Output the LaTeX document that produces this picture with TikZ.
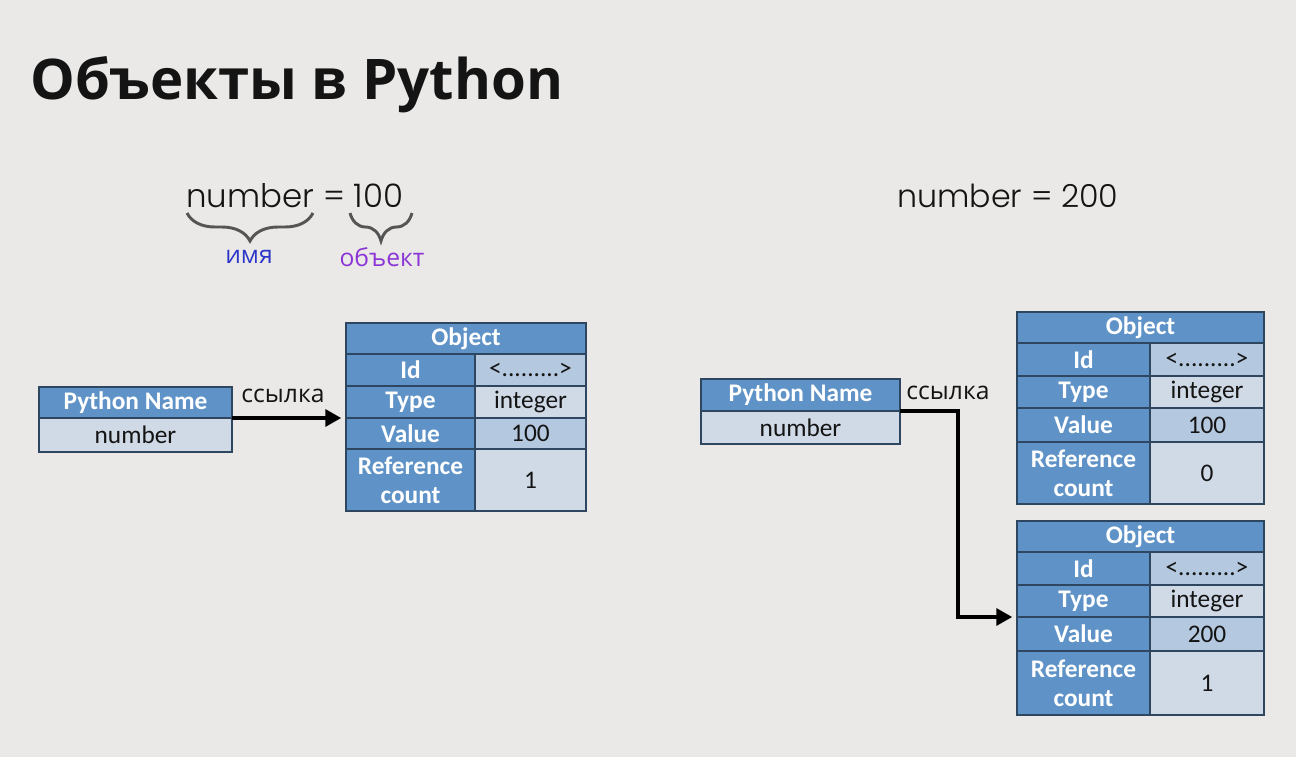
\documentclass[tikz,border=0pt]{standalone}
\usepackage{graphicx}
\usepackage{fontspec}
\setmainfont{Carlito}
\newfontfamily\titlefont{Open Sans}
\newfontfamily\geofont{Poppins}[UprightFont=* Light]
\newfontfamily\cyrfont{Open Sans}
\usetikzlibrary{arrows.meta,decorations.pathreplacing}
\definecolor{bg}{HTML}{EBE9E7}
\definecolor{hdr}{HTML}{5F93C7}
\definecolor{cellA}{HTML}{B4C8DF}
\definecolor{cellB}{HTML}{D0DAE6}
\definecolor{edge}{HTML}{2E4660}
\definecolor{namec}{HTML}{2B35C8}
\definecolor{objc}{HTML}{8B35D6}
\definecolor{ink}{HTML}{141414}
\definecolor{bracec}{HTML}{555555}
\newcommand\cellbox[7]{\node[#6, minimum width=#4*0.75pt, minimum height=#5*0.75pt] (#1) at (#2,#3) {#7};}
\tikzset{
  tbl/.style={draw=edge, line width=1.1pt, inner sep=0pt, outer sep=0pt, anchor=north west, align=center, font=\fontsize{19}{21.5}\selectfont},
  hcell/.style={tbl, fill=hdr, text=white, font=\fontsize{19}{21.5}\selectfont\bfseries},
  acell/.style={tbl, fill=cellA, text=ink},
  bcell/.style={tbl, fill=cellB, text=ink},
  arr/.style={line width=3.6pt, draw=black, -{Triangle[length=12pt,width=12.5pt]}, shorten >=3.5pt},
  lbl/.style={font=\cyrfont\fontsize{18.5}{22}\selectfont, text=ink, inner sep=0pt},
  brc/.style={decorate, decoration={brace, mirror, amplitude=21pt}, line width=2.2pt, draw=bracec},
}
\begin{document}
\begin{tikzpicture}[x=0.75pt, y=-0.75pt]
\fill[bg] (0,0) rectangle (1296,757);
\useasboundingbox (0,0) rectangle (1296,757);

% title
\node[anchor=base west, inner sep=0pt, text=ink] (title) at (30,99)
  {\resizebox{399.75pt}{32.25pt}{\titlefont\bfseries Объекты в Python}};

% assignments
\node[anchor=base west, inner sep=0pt, text=ink] (eq1) at (186,207)
  {\resizebox{162.75pt}{!}{\geofont\fontsize{22}{26}\selectfont number = 100}};
\node[anchor=base west, inner sep=0pt, text=ink] (eq2) at (897,207)
  {\resizebox{165.75pt}{!}{\geofont\fontsize{22}{26}\selectfont number = 200}};

% braces
\coordinate (b1a) at (187,213);
\coordinate (b1b) at (313,213);
\coordinate (b2a) at (350,213);
\coordinate (b2b) at (412,213);
\draw[brc] (b1a) -- (b1b);
\draw[brc] (b2a) -- (b2b);
\node[lbl, text=namec] (imya) at (249,257) {имя};
\node[lbl, text=objc] (obj) at (382,257) {объект};

% left Python name
\cellbox{pnLh}{39}{387}{193}{31}{hcell}{Python Name}
\cellbox{pnLv}{39}{418}{193}{34}{bcell}{number}

% left object
\cellbox{oLh}{346}{323}{240}{31}{hcell}{Object}
\cellbox{oLi}{346}{354}{129}{32}{hcell}{Id}
\cellbox{oLiv}{475}{354}{111}{32}{acell}{<.........>}
\cellbox{oLt}{346}{386}{129}{32}{hcell}{Type}
\cellbox{oLtv}{475}{386}{111}{32}{bcell}{integer}
\cellbox{oLv}{346}{418}{129}{31}{hcell}{Value}
\cellbox{oLvv}{475}{418}{111}{31}{acell}{100}
\cellbox{oLr}{346}{449}{129}{62}{hcell}{Reference\\count}
\cellbox{oLrv}{475}{449}{111}{62}{bcell}{1}

\draw[arr] (pnLh.south east) -- (pnLh.south east -| oLt.south west);
\node[lbl] (refL) at (283,396) {ссылка};

% right Python name
\cellbox{pnRh}{701}{379}{199}{32}{hcell}{Python Name}
\cellbox{pnRv}{701}{411}{199}{33}{bcell}{number}

% right object 1
\cellbox{o1h}{1017}{312}{247}{31}{hcell}{Object}
\cellbox{o1i}{1017}{343}{133}{33}{hcell}{Id}
\cellbox{o1iv}{1150}{343}{114}{33}{acell}{<.........>}
\cellbox{o1t}{1017}{376}{133}{32}{hcell}{Type}
\cellbox{o1tv}{1150}{376}{114}{32}{bcell}{integer}
\cellbox{o1v}{1017}{408}{133}{34}{hcell}{Value}
\cellbox{o1vv}{1150}{408}{114}{34}{acell}{100}
\cellbox{o1r}{1017}{442}{133}{62}{hcell}{Reference\\count}
\cellbox{o1rv}{1150}{442}{114}{62}{bcell}{0}

% right object 2
\cellbox{o2h}{1017}{521}{247}{31}{hcell}{Object}
\cellbox{o2i}{1017}{552}{133}{33}{hcell}{Id}
\cellbox{o2iv}{1150}{552}{114}{33}{acell}{<.........>}
\cellbox{o2t}{1017}{585}{133}{32}{hcell}{Type}
\cellbox{o2tv}{1150}{585}{114}{32}{bcell}{integer}
\cellbox{o2v}{1017}{617}{133}{34}{hcell}{Value}
\cellbox{o2vv}{1150}{617}{114}{34}{acell}{200}
\cellbox{o2r}{1017}{651}{133}{64}{hcell}{Reference\\count}
\cellbox{o2rv}{1150}{651}{114}{64}{bcell}{1}

\coordinate (bend) at (958,411);
\draw[arr] (pnRh.south east) -- (pnRh.south east -| bend) |- (o2t.south west);
\node[lbl] (refR) at (948,393) {ссылка};
\end{tikzpicture}
\end{document}
